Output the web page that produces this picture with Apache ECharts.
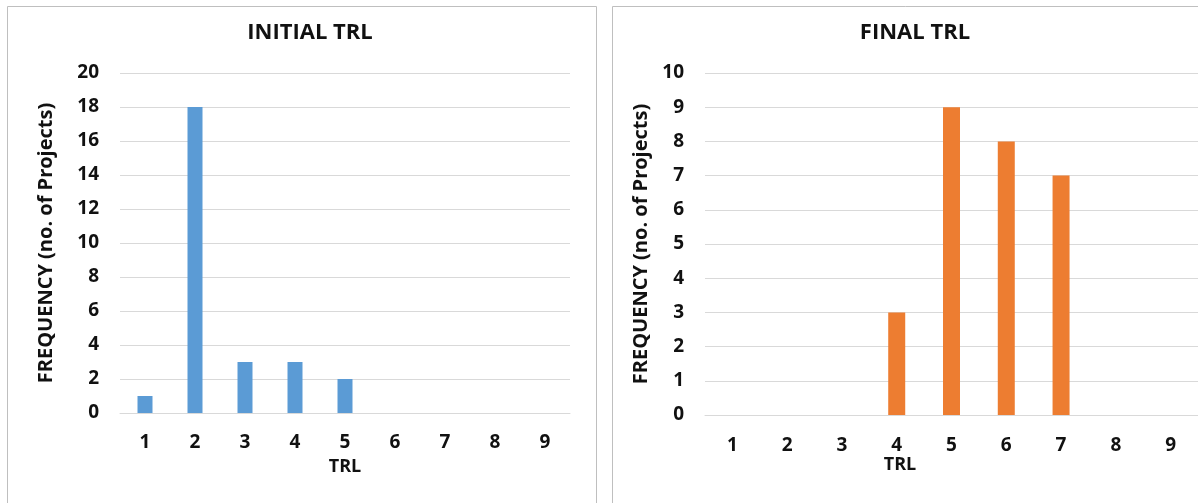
<!DOCTYPE html>
<html>
<head>
<meta charset="utf-8">
<script src="https://cdn.jsdelivr.net/npm/echarts@6/dist/echarts.min.js"></script>
<style>
  html, body { margin: 0; padding: 0; background: #fff; }
  #chart { width: 1198px; height: 503px; }
</style>
</head>
<body>
<div id="chart"></div>
<script>
// TRL levels on the x axis
const trlLevels = ['1', '2', '3', '4', '5', '6', '7', '8', '9']
// number of projects at each level
const initialCounts = [1, 18, 3, 3, 2, 0, 0, 0, 0]
const finalCounts = [0, 0, 0, 3, 9, 8, 7, 0, 0]

const font = 'Open Sans'
const textColor = '#111'
const gridColor = '#d9d9d9'

const chart = echarts.init(document.getElementById('chart'))

function xAxisFor(gridIndex, margin) {
  return {
    type: 'category',
    gridIndex: gridIndex,
    data: trlLevels,
    axisTick: {show: false},
    axisLine: {lineStyle: {color: gridColor, width: 1}},
    axisLabel: {
      margin: margin,
      fontFamily: font,
      fontWeight: 'bold',
      fontSize: 19,
      color: textColor
    }
  }
}

function yAxisFor(gridIndex, max, interval, nameGap) {
  return {
    type: 'value',
    gridIndex: gridIndex,
    min: 0,
    max: max,
    interval: interval,
    name: 'FREQUENCY (no. of Projects)',
    nameLocation: 'middle',
    nameRotate: 90,
    nameGap: nameGap,
    nameTextStyle: {
      fontFamily: font,
      fontWeight: 'bold',
      fontSize: 20,
      color: textColor
    },
    axisLine: {show: false},
    axisTick: {show: false},
    splitLine: {lineStyle: {color: gridColor, width: 1}},
    axisLabel: {
      margin: 21,
      fontFamily: font,
      fontWeight: 'bold',
      fontSize: 19,
      color: textColor
    }
  }
}

const titleStyle = {fontFamily: font, fontWeight: 'bold', fontSize: 22, color: textColor}
const trlStyle = {text: 'TRL', font: 'bold 18px "Open Sans"', fill: textColor, textAlign: 'center', textVerticalAlign: 'middle'}

const option = {
  animation: false,
  backgroundColor: '#fff',
  title: [
    {text: 'INITIAL TRL', left: 305, top: 17, textAlign: 'center', textStyle: titleStyle},
    {text: 'FINAL TRL', left: 910, top: 17, textAlign: 'center', textStyle: titleStyle}
  ],
  grid: [
    {left: 120, top: 73, width: 450, height: 340},
    {left: 705, top: 73, width: 498, height: 342}
  ],
  xAxis: [xAxisFor(0, 20), xAxisFor(1, 21)],
  yAxis: [yAxisFor(0, 20, 2, 64), yAxisFor(1, 10, 1, 54)],
  series: [
    {
      name: 'Initial TRL',
      type: 'bar',
      xAxisIndex: 0,
      yAxisIndex: 0,
      barWidth: 15,
      itemStyle: {color: '#5b9bd5'},
      data: initialCounts
    },
    {
      name: 'Final TRL',
      type: 'bar',
      xAxisIndex: 1,
      yAxisIndex: 1,
      barWidth: 17,
      itemStyle: {color: '#ed7d31'},
      data: finalCounts
    }
  ],
  graphic: [
    // panel frames
    {
      type: 'rect',
      shape: {x: 7.5, y: 6.5, width: 589, height: 600},
      style: {fill: 'none', stroke: '#bfbfbf', lineWidth: 1}
    },
    {
      type: 'rect',
      shape: {x: 612.5, y: 6.5, width: 700, height: 600},
      style: {fill: 'none', stroke: '#bfbfbf', lineWidth: 1}
    },
    // x axis titles
    {type: 'text', x: 345, y: 467, style: trlStyle},
    {type: 'text', x: 900, y: 465, style: trlStyle}
  ]
}

chart.setOption(option)
</script>
</body>
</html>
